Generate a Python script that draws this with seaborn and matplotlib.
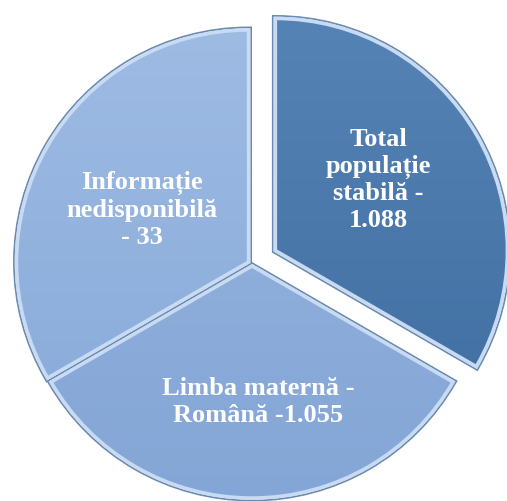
import matplotlib
matplotlib.use('Agg')
import matplotlib.pyplot as plt
import matplotlib.patheffects as pe
import matplotlib.colors as mcolors
import numpy as np
import seaborn as sns

# --- Data (slice labels as printed, slice shares as drawn: three equal thirds) ---
categories = ['Total populație stabilă', 'Limba maternă - Română', 'Informație nedisponibilă']
label_values = ['1.088', '1.055', '33']
slice_shares = [1, 1, 1]
label_texts = ['Total\npopulație\nstabilă -\n1.088',
               'Limba maternă -\nRomână -1.055',
               'Informație\nnedisponibilă\n- 33']

# --- Style ---
FACE_COLORS = ['#4877aa', '#8eaedc', '#94b3de']
# top / bottom shades for a soft vertical gradient on each slice
GRAD_COLORS = [('#5784b6', '#3c6b9f'), ('#98b6e0', '#84a6d6'), ('#9fbce4', '#86a8d8')]
EDGE_LIGHT = '#c9dbf3'
EDGE_DARK = '#6a8ab0'

sns.set_theme(style='white')
plt.rcParams['font.family'] = ['Liberation Serif', 'DejaVu Serif']

W, H = 507, 501
fig = plt.figure(figsize=(W / 100, H / 100), dpi=100)
ax = fig.add_axes([0, 0, 1, 1])

# pixel-like data units, y up
center = (252, H - 264)
radius = 232
explode = [27, 2, 4]

wedges, _ = ax.pie(slice_shares, colors=FACE_COLORS, startangle=90,
                   counterclock=False, center=center, radius=radius,
                   explode=explode,
                   wedgeprops=dict(edgecolor=EDGE_LIGHT, linewidth=2.5,
                                   joinstyle='miter'))

# gradient fill clipped to each wedge
for w, (top, bot) in zip(wedges, GRAD_COLORS):
    cmap = mcolors.LinearSegmentedColormap.from_list('g', [bot, top])
    grad = np.linspace(0, 1, 256).reshape(-1, 1)
    im = ax.imshow(grad, cmap=cmap, origin='lower', extent=(0, W, 0, H),
                   aspect='auto', zorder=w.get_zorder() + 0.1)
    im.set_clip_path(w)
    w.set_path_effects([pe.withStroke(linewidth=5, foreground=EDGE_DARK),
                        pe.Normal()])

# outline on top of the gradient
for w in wedges:
    ax.add_patch(plt.matplotlib.patches.Wedge(
        w.center, w.r, w.theta1, w.theta2, facecolor='none',
        edgecolor=EDGE_LIGHT, linewidth=2.5, zorder=w.get_zorder() + 0.2))

# label positions in the same pixel units
label_pos = [(378, H - 180), (258, H - 402), (142, H - 210)]
for txt, (x, y) in zip(label_texts, label_pos):
    ax.text(x, y, txt, ha='center', va='center', color='white',
            fontsize=19, fontweight='bold', linespacing=1.2, zorder=5)

ax.set_xlim(0, W)
ax.set_ylim(0, H)
ax.set_aspect('equal')
ax.axis('off')

fig.savefig('out.png', dpi=100)
